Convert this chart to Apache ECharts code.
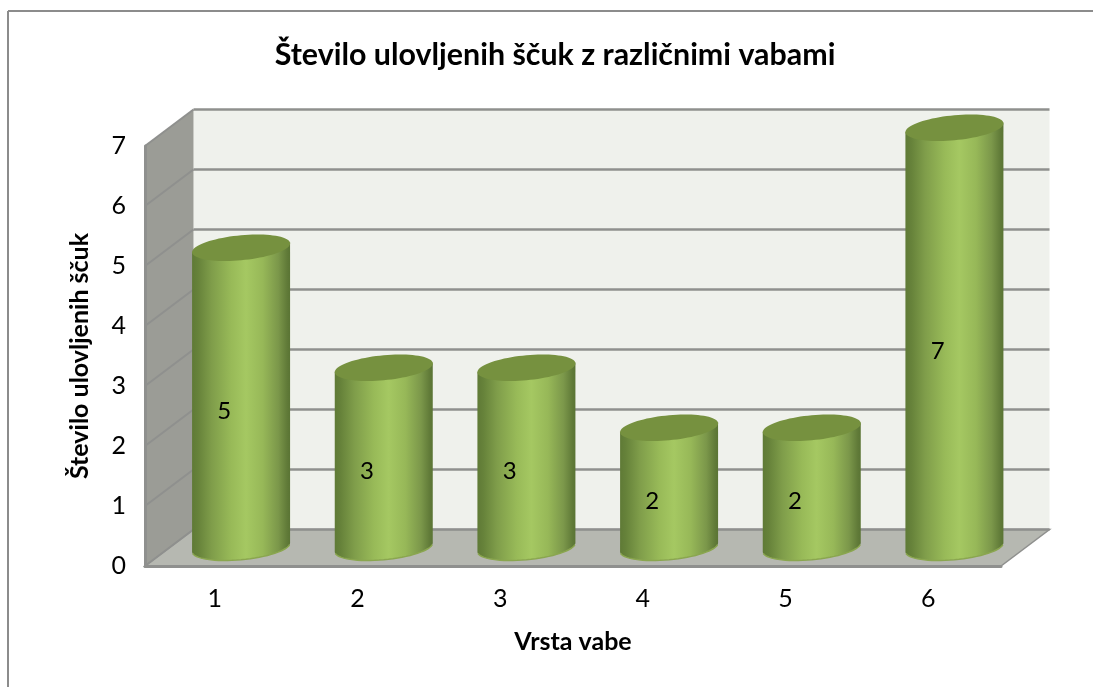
<!DOCTYPE html>
<html>
<head>
<meta charset="utf-8">
<style>html,body{margin:0;padding:0;background:#fff}#c{width:1093px;height:687px}</style>
<script src="https://cdn.jsdelivr.net/npm/echarts@6/dist/echarts.min.js"></script>
</head>
<body>
<div id="c"></div>
<script>
const categories = ['1','2','3','4','5','6'];
const catches = [5,3,3,2,2,7];
const yTicks = [0,1,2,3,4,5,6,7];
const titleText = 'Število ulovljenih ščuk z različnimi vabami';
const yName = 'Število ulovljenih ščuk';
const xName = 'Vrsta vabe';
const FONT = 'Lato, Carlito, Calibri, sans-serif';
const DX = 48.5, DY = -36.5;
const GRID_LINE = '#8f908e';

function ellipsePts(cx, cy, a, b, s, t0, t1, n) {
  const out = [];
  for (let i = 0; i <= n; i++) {
    const t = t0 + (t1 - t0) * i / n;
    out.push([cx + a * Math.cos(t), cy + b * Math.sin(t) - s * a * Math.cos(t)]);
  }
  return out;
}
const bodyFill = {
  type: 'linear', x: 0, y: 0, x2: 1, y2: 0,
  colorStops: [
    {offset: 0, color: '#5f7a36'},
    {offset: 0.06, color: '#66823a'},
    {offset: 0.2, color: '#7f9d4a'},
    {offset: 0.4, color: '#98ba58'},
    {offset: 0.55, color: '#a5c862'},
    {offset: 0.72, color: '#97b858'},
    {offset: 0.88, color: '#7b974a'},
    {offset: 0.97, color: '#607a38'},
    {offset: 1, color: '#5a7434'}
  ]
};

const option = {
  animation: false,
  backgroundColor: '#fff',
  textStyle: {fontFamily: FONT},
  title: {
    text: titleText, left: 550, top: 35, textAlign: 'center',
    textStyle: {fontFamily: FONT, fontSize: 30.4, fontWeight: 'bold', color: '#000'}
  },
  grid: {left: 145, right: 92, top: 146, bottom: 121, containLabel: false},
  graphic: [
    {type: 'line', shape: {x1: 8, y1: 11, x2: 1093, y2: 11}, style: {stroke: '#8c8c8c', lineWidth: 2}},
    {type: 'line', shape: {x1: 8, y1: 11, x2: 8, y2: 687}, style: {stroke: '#8c8c8c', lineWidth: 2}}
  ],
  xAxis: {
    type: 'category', data: categories, z: 3,
    name: xName, nameLocation: 'middle', nameGap: 63,
    nameTextStyle: {fontFamily: FONT, fontSize: 25, fontWeight: 'bold', color: '#000'},
    axisLine: {show: true, lineStyle: {color: GRID_LINE, width: 3}},
    axisTick: {show: false},
    axisLabel: {color: '#000', fontSize: 25, fontFamily: FONT, margin: 20, padding: [0, 3, 0, 0]},
    splitLine: {show: false}
  },
  yAxis: {
    type: 'value', min: 0, max: 7, interval: 1, z: 3,
    name: yName, nameLocation: 'middle', nameGap: 53,
    nameTextStyle: {fontFamily: FONT, fontSize: 25, fontWeight: 'bold', color: '#000'},
    axisLine: {show: true, lineStyle: {color: GRID_LINE, width: 3}},
    axisTick: {show: false},
    axisLabel: {color: '#000', fontSize: 25, fontFamily: FONT, margin: 19, padding: [8, 0, 0, 0]},
    splitLine: {show: false}
  },
  series: [
    {
      type: 'custom', coordinateSystem: 'cartesian2d', z: 1, silent: true,
      data: [[0, 7]], encode: {x: 0, y: 1},
      renderItem(params, api) {
        const g = params.coordSys;
        const l = g.x, r = g.x + g.width, t = g.y, b = g.y + g.height;
        return {type: 'group', children: [
          {type: 'polygon', shape: {points: [[l+DX,t+DY],[r+DX,t+DY],[r+DX,b+DY],[l+DX,b+DY]]}, style: {fill: '#eff1ec'}},
          {type: 'polygon', shape: {points: [[l,t],[l+DX,t+DY],[l+DX,b+DY],[l,b]]}, style: {fill: '#9b9c96'}},
          {type: 'polygon', shape: {points: [[l,b],[l+DX,b+DY],[r+DX,b+DY],[r,b]]}, style: {fill: '#b6b8b1', stroke: GRID_LINE, lineWidth: 1.5}}
        ]};
      }
    },
    {
      type: 'custom', coordinateSystem: 'cartesian2d', z: 1, silent: true,
      data: yTicks.map(v => [0, v]), encode: {x: 0, y: 1},
      renderItem(params, api) {
        const g = params.coordSys;
        const y = api.coord([0, api.value(1)])[1];
        const l = g.x, r = g.x + g.width;
        return {type: 'group', children: [
          {type: 'line', shape: {x1: l, y1: y, x2: l+DX, y2: y+DY}, style: {stroke: GRID_LINE, lineWidth: 2}},
          {type: 'line', shape: {x1: l+DX, y1: y+DY, x2: r+DX, y2: y+DY}, style: {stroke: GRID_LINE, lineWidth: 2.5}}
        ]};
      }
    },
    {
      type: 'custom', coordinateSystem: 'cartesian2d', z: 2, silent: true,
      data: catches.map((v, i) => [i, v]), encode: {x: 0, y: 1},
      renderItem(params, api) {
        const i = api.value(0), v = api.value(1);
        const top = api.coord([i, v]), base = api.coord([i, 0]), mid = api.coord([i, v / 2]);
        const cx = top[0] + DX / 2 + 0.5, a = 49, b = 12.5, s = 0.09;
        const ty = top[1] + DY / 2, by = base[1] + DY / 2 - 0.5;
        const lower = ellipsePts(cx, by, a, b, s, 0, Math.PI, 40);
        const upper = [[cx - a, ty + s * a], [cx + a, ty - s * a]];
        const ell = ellipsePts(cx, ty, a, b, s, 0, 2 * Math.PI, 80);
        const rim = ellipsePts(cx, by, a, b, s, 0.15, Math.PI - 0.15, 30);
        return {type: 'group', children: [
          {type: 'polygon', shape: {points: lower.concat(upper)}, style: {fill: bodyFill}},
          {type: 'polyline', shape: {points: rim}, style: {fill: 'none', stroke: '#8aa64f', lineWidth: 1.5}},
          {type: 'polygon', shape: {points: ell}, style: {fill: '#76913f'}},
          {type: 'text', x: top[0] + 8, y: mid[1] - 5, style: {text: String(v), fill: '#000', fontSize: 24, fontFamily: FONT, align: 'center', verticalAlign: 'middle'}}
        ]};
      }
    }
  ]
};
const chart = echarts.init(document.getElementById('c'), null, {renderer: 'canvas'});
chart.setOption(option);
</script>
</body>
</html>
